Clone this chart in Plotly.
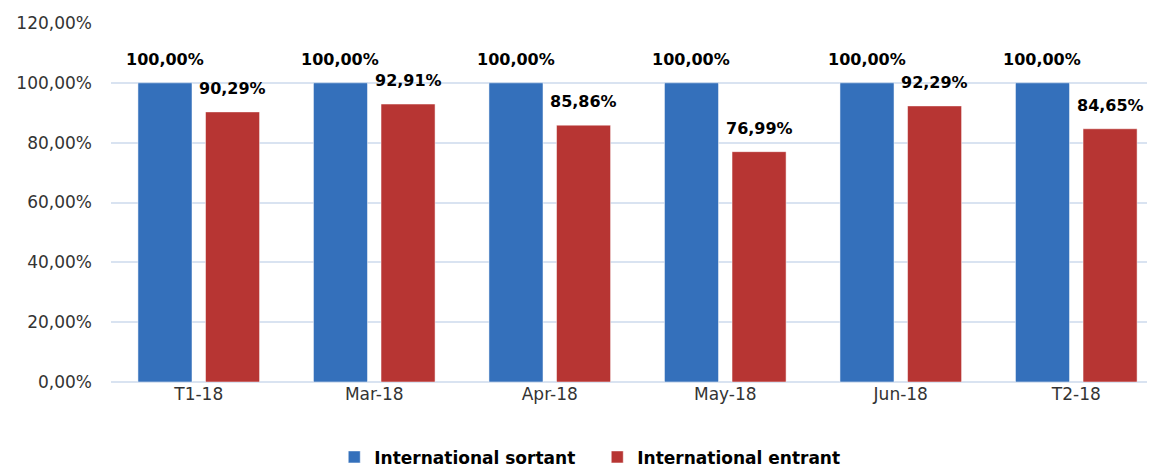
import plotly.graph_objects as go

periodes = ["T1-18", "Mar-18", "Apr-18", "May-18", "Jun-18", "T2-18"]
intl_sortant = [1.0, 1.0, 1.0, 1.0, 1.0, 1.0]
intl_entrant = [0.9029, 0.9291, 0.8586, 0.7699, 0.9229, 0.8465]

police = "'DejaVu Sans', Lato, sans-serif"

fig = go.Figure()
fig.add_trace(go.Bar(x=periodes, y=intl_sortant, name="International sortant", marker_color="#3470bb"))
fig.add_trace(go.Bar(x=periodes, y=intl_entrant, name="International entrant", marker_color="#b73533"))

# étiquettes un peu plus hautes que le textposition outside de plotly
for serie, decalage in [(intl_sortant, -34), (intl_entrant, 34)]:
    for p, v in zip(periodes, serie):
        fig.add_annotation(
            x=p, y=v, text=f"{v * 100:.2f}%".replace(".", ","),
            showarrow=False, xshift=decalage, yshift=12, yanchor="bottom",
            font=dict(size=16, color="black", family=police, weight="bold"),
        )

# la page html ajoute ~8px de marge autour du graphique
fig.update_layout(
    width=1147, height=460,
    template="plotly_white",
    separators=",.",
    barmode="group", bargap=0.23, bargroupgap=0.2,
    font=dict(family=police, size=17, color="#333333"),
    margin=dict(l=103, r=5, t=15, b=86, autoexpand=False),
    plot_bgcolor="white", paper_bgcolor="white",
    xaxis=dict(range=[-0.5, 5.42], showgrid=False, ticks="", showline=False, automargin=False),
    yaxis=dict(range=[0, 1.2], dtick=0.2, tickformat=".2%", gridcolor="#d9e3f1",
               gridwidth=1.5, zeroline=True, zerolinecolor="#d9e3f1", zerolinewidth=1.5,
               ticks="", ticklabelstandoff=18, automargin=False),
    legend=dict(orientation="h", x=0.468, xanchor="center", y=-0.21, yanchor="middle",
                font=dict(size=17, color="black", weight="bold"),
                entrywidth=218, entrywidthmode="pixels",
                traceorder="normal"),
)

fig.write_html("out.html")
